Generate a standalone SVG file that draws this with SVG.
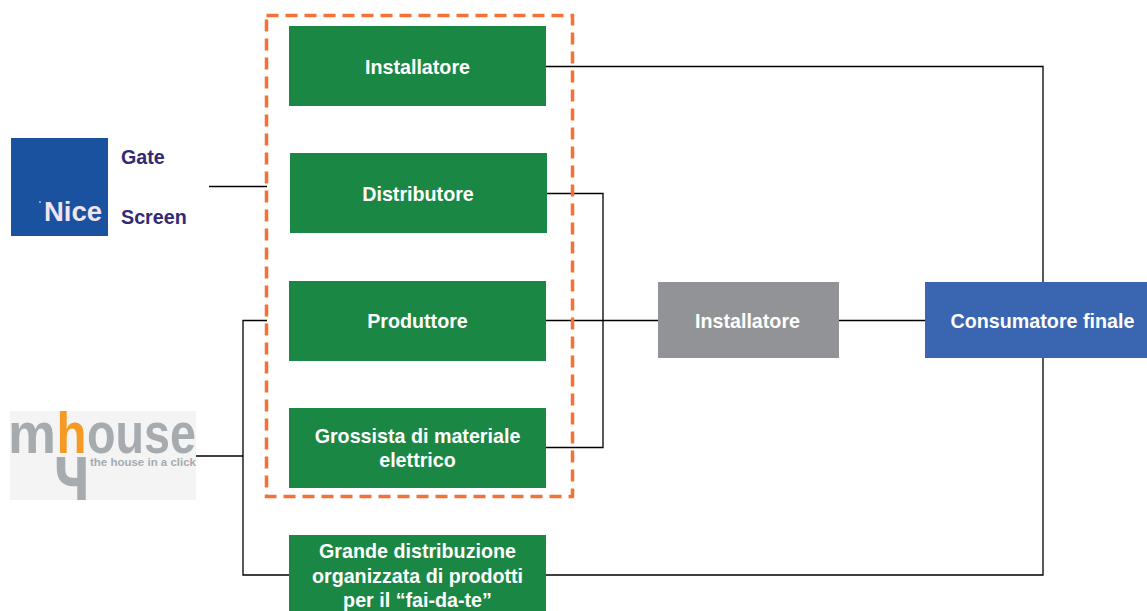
<svg xmlns="http://www.w3.org/2000/svg" width="1147" height="611" viewBox="0 0 1147 611">
<style>
text{font-family:"Liberation Sans",Arial,sans-serif;font-weight:700}
.g{fill:#1b8744}
.t{fill:#fff;font-size:19.700px;text-anchor:middle}
.c{fill:none;stroke:#000;stroke-width:1.300}
.l{fill:#322a73;font-size:19.700px}
.b{font-size:58px;fill:#a6abb0}
</style>
<rect width="1147" height="611" fill="#fff"/>
<g id="connectors">
<path class="c" d="M546 66.500H1043V282"/>
<path class="c" d="M547 193.500H603V447.500H546"/>
<path class="c" d="M546 320.500H658"/>
<path class="c" d="M838 320.500H925"/>
<path class="c" d="M209 186.500H267"/>
<path class="c" d="M267 320.500H243V575H289"/>
<path class="c" d="M195 456H243"/>
<path class="c" d="M546 575H1043V358"/>
</g>
<g id="group-border"><rect x="266.500" y="15.500" width="306" height="481" fill="none" stroke="#f47236" stroke-width="3.500" stroke-dasharray="12 7"/></g>
<g id="node-installatore-1"><rect class="g" x="289" y="26" width="257" height="80"/><text class="t" x="417.500" y="74">Installatore</text></g>
<g id="node-distributore"><rect class="g" x="290" y="153" width="257" height="80"/><text class="t" x="418" y="201">Distributore</text></g>
<g id="node-produttore"><rect class="g" x="289" y="281" width="257" height="80"/><text class="t" x="417.500" y="328">Produttore</text></g>
<g id="node-grossista"><rect class="g" x="289" y="408" width="257" height="80"/><text class="t" x="417.500" y="443">Grossista di materiale</text><text class="t" x="417.500" y="467">elettrico</text></g>
<g id="node-grande"><rect class="g" x="289" y="535" width="257" height="76"/><text class="t" x="417.500" y="558">Grande distribuzione</text><text class="t" x="417.500" y="583">organizzata di prodotti</text><text class="t" x="417.500" y="607">per il “fai-da-te”</text></g>
<g id="node-installatore-2"><rect x="658" y="282" width="181" height="76" fill="#929396"/><text class="t" x="747.500" y="328">Installatore</text></g>
<g id="node-consumatore"><rect x="925" y="282" width="222" height="76" fill="#3a66b1"/><text class="t" x="1042.500" y="328">Consumatore finale</text></g>
<g id="node-nice"><rect x="11" y="138" width="97" height="98" fill="#1a52a0"/><circle cx="40" cy="202" r="1" fill="#a9bce0"/><text x="44" y="221" font-size="27.500" fill="#f0e4ee">Nice</text><text class="l" x="121" y="164">Gate</text><text class="l" x="121" y="224">Screen</text></g>
<g id="node-mhouse"><rect x="10" y="411" width="186" height="89" fill="#f4f4f4"/>
<path d="M61 457V468Q61 482 73 482H81.500M81.500 457V500" fill="none" stroke="#a6abb0" stroke-width="8.500"/>
<text class="b" x="8" y="453" textLength="48" lengthAdjust="spacingAndGlyphs">m</text>
<text class="b" x="56.500" y="453" textLength="30" lengthAdjust="spacingAndGlyphs" style="fill:#f59a23">h</text>
<text class="b" x="87" y="453" textLength="109" lengthAdjust="spacingAndGlyphs">ouse</text>
<text x="90" y="466" font-size="11.500" textLength="106" lengthAdjust="spacingAndGlyphs" fill="#a6abb0">the house in a click</text></g>
</svg>
